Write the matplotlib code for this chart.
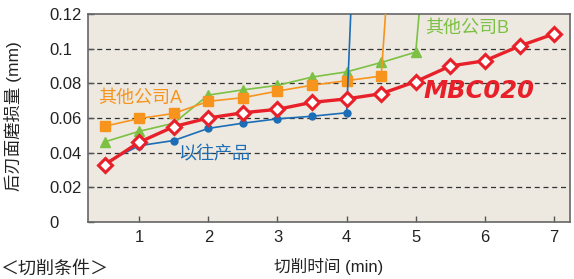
import matplotlib
matplotlib.use("Agg")
import matplotlib.pyplot as plt

plt.rcParams['font.family'] = ['Liberation Sans', 'Noto Sans CJK SC', 'DejaVu Sans']

# cutting time (min)
t_mbc = [0.5, 1, 1.5, 2, 2.5, 3, 3.5, 4, 4.5, 5, 5.5, 6, 6.5, 7]
w_mbc = [0.033, 0.046, 0.055, 0.060, 0.063, 0.065, 0.069, 0.071, 0.074, 0.081, 0.090, 0.093, 0.1015, 0.1085]

t_old = [0.5, 1, 1.5, 2, 2.5, 3, 3.5, 4]
w_old = [0.034, 0.044, 0.047, 0.054, 0.057, 0.0595, 0.061, 0.063]
old_fail = (4.07, 0.13)

t_a = [0.5, 1, 1.5, 2, 2.5, 3, 3.5, 4, 4.5]
w_a = [0.0552, 0.0597, 0.0626, 0.0696, 0.0717, 0.0755, 0.0789, 0.0815, 0.0842]
a_fail = (4.58, 0.13)

t_b = [0.5, 1, 1.5, 2, 2.5, 3, 3.5, 4, 4.5, 5]
w_b = [0.0462, 0.0523, 0.057, 0.0732, 0.0762, 0.0788, 0.0836, 0.0866, 0.092, 0.098]
b_fail = (5.07, 0.13)

xticks = [1, 2, 3, 4, 5, 6, 7]
yticks = [0, 0.02, 0.04, 0.06, 0.08, 0.1, 0.12]
yticklabels = ['0', '0.02', '0.04', '0.06', '0.08', '0.1', '0.12']

RED = '#E8202A'
BLUE = '#1B6DB5'
ORANGE = '#F7941D'
GREEN = '#7CC143'

fig = plt.figure(figsize=(5.74, 2.79), dpi=100)
ax = fig.add_axes([0.1533, 0.2043, 0.8397, 0.7457])
ax.set_facecolor('#EDE9E0')

ax.set_xlim(0.26, 7.23)
ax.set_ylim(0, 0.12)

for y in yticks[1:-1]:
    ax.axhline(y, color='#333333', lw=0.9, ls=(0, (4, 3)), zorder=1)

# green (other company B)
ax.plot(t_b + [b_fail[0]], w_b + [b_fail[1]], color=GREEN, lw=1.2, zorder=2)
ax.plot(t_b, w_b, ls='none', marker='^', ms=7, color=GREEN, zorder=2)
# orange (other company A)
ax.plot(t_a + [a_fail[0]], w_a + [a_fail[1]], color=ORANGE, lw=1.2, zorder=3)
ax.plot(t_a, w_a, ls='none', marker='s', ms=6.5, color=ORANGE, zorder=3)
# blue (old product)
ax.plot(t_old + [old_fail[0]], w_old + [old_fail[1]], color=BLUE, lw=1.2, zorder=4)
ax.plot(t_old, w_old, ls='none', marker='o', ms=5, color=BLUE, zorder=4)
# red (MBC020)
ax.plot(t_mbc, w_mbc, color=RED, lw=2.4, marker='D', ms=7.5, mfc='white',
        mec=RED, mew=2.2, zorder=5)

ax.set_xticks(xticks)
ax.set_yticks(yticks)
ax.set_yticklabels(yticklabels, ha='left')
ax.tick_params(direction='in', length=4, width=1, color='#555555', labelsize=12,
               labelcolor='#222222')
ax.tick_params(axis='x', pad=6)
ax.tick_params(axis='y', pad=28)
for s in ax.spines.values():
    s.set_color('#666666')
    s.set_linewidth(1.2)

ax.set_ylabel('后刃面磨损量 (mm)', fontsize=12.5, color='#222222')
ax.yaxis.set_label_coords(-0.137, 0.51)
ax.set_xlabel('切削时间 (min)', fontsize=12, color='#222222', labelpad=9)

ax.text(1.01, 0.0713, '其他公司A', color=ORANGE, fontsize=13, ha='center', va='center')
ax.text(5.74, 0.112, '其他公司B', color=GREEN, fontsize=13, ha='center', va='center')
ax.text(2.08, 0.0388, '以往产品', color=BLUE, fontsize=13, ha='center', va='center')
ax.text(5.91, 0.0754, 'MBC020', color=RED, fontsize=17.5, fontweight='bold',
        fontstyle='italic', family='DejaVu Sans', ha='center', va='center')

fig.text(0.0, 0.035, '＜切削条件＞', fontsize=13, color='#222222', ha='left', va='center')

fig.savefig('out.png', dpi=100)
